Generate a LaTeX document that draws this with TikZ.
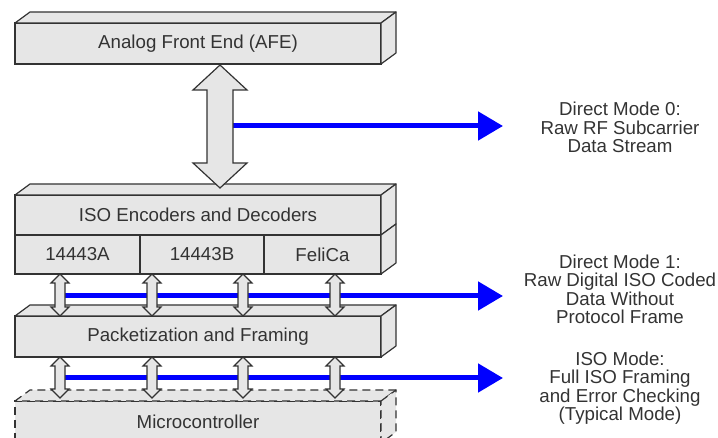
\documentclass[tikz,border=0pt]{standalone}
\usepackage{fontspec}
\setmainfont{Liberation Sans}
\usetikzlibrary{positioning,calc,arrows.meta}
\definecolor{facegray}{HTML}{E6E6E6}
\definecolor{edgegray}{HTML}{333333}
\definecolor{modeblue}{HTML}{0000FF}

\newcommand{\blocktop}[2][]{\draw[face,#1] (#2.north west) -- ++(15,-11) -- ($(#2.north east)+(15,-11)$) -- (#2.north east) -- cycle;}
\newcommand{\blockside}[3][]{\draw[face,#1] (#2.north east) -- ++(15,-11) -- ($(#3.south east)+(15,-11)$) -- (#3.south east) -- cycle;}
\newcommand{\dblarrow}[5]{\draw[twoway] (#1) -- ++(#3,#5) -- ++(-#3+#4,0) -- ($(#2)+(#4,-#5)$) -- ++(#3-#4,0) -- (#2)
  -- ++(-#3,-#5) -- ++(#3-#4,0) -- ($(#1)+(-#4,#5)$) -- ++(-#3+#4,0) -- cycle;}

\begin{document}
\begin{tikzpicture}[
		x=1pt,y=-1pt,
		line width=1.2pt,
		block/.style={draw=edgegray, fill=facegray, rectangle, outer sep=0pt, inner sep=0pt,
			minimum width=366pt, minimum height=41pt, text=edgegray, font=\fontsize{18.7}{18.5}\selectfont},
		cell/.style={block, minimum height=39pt},
		face/.style={draw=edgegray, fill=facegray, line join=round},
		dashface/.style={dash pattern=on 8pt off 5pt},
		twoway/.style={draw=edgegray, fill=facegray, line join=miter},
		modeline/.style={draw=modeblue, line width=5pt, -{Triangle[length=25pt,width=28pt]}},
		modetext/.style={align=center, text=edgegray, font=\fontsize{18.7}{18.5}\selectfont}
	]
	\useasboundingbox (0,0) rectangle (718,438);
	\clip (0,0) rectangle (718,438);

	\node[block] (afe) at (198,43.5) {Analog Front End (AFE)};
	\node[block, minimum height=40pt] (iso) at (198,215) {ISO Encoders and Decoders};
	\node[cell, minimum width=125pt, anchor=north west] (isoa) at (iso.south west) {14443A};
	\node[cell, minimum width=124pt, right=0pt of isoa] (isob) {14443B};
	\node[cell, minimum width=117pt, right=0pt of isob] (isoc) {FeliCa};
	\node[block] (pkt) at (198,336.5) {Packetization and Framing};
	\node[block, dashface, minimum height=42pt] (mcu) at (198,422) {Microcontroller};

	\blocktop{afe} \blockside{afe}{afe}
	\blocktop{iso} \blockside{iso}{iso} \blockside{isoc}{isoc}
	\blocktop{pkt} \blockside{pkt}{pkt}
	\blocktop[dashface]{mcu} \blockside[dashface]{mcu}{mcu}

	\node[modetext] (dm0) at (620,127.5) {Direct Mode 0:\\Raw RF Subcarrier\\Data Stream};
	\node[modetext] (dm1) at (620,289.5) {Direct Mode 1:\\Raw Digital ISO Coded\\Data Without\\Protocol Frame};
	\node[modetext] (isomode) at (620,388) {ISO Mode:\\Full ISO Framing\\and Error Checking\\(Typical Mode)};

	\path (afe.south) ++(22,1) coordinate (t0);
	\path (iso.north) ++(22,-7) coordinate (b0);
	\path (mcu.north) ++(0,-3) coordinate (mcutop);
	\coordinate (dm0end) at (503,126);
	\coordinate (dm1start) at (60,296);
	\coordinate (dm1end) at (503,296);
	\coordinate (isostart) at (60,378);
	\coordinate (isoend) at (503,378);

	\draw[modeline] (t0 |- dm0end) -- (dm0end);
	\draw[modeline] (dm1start) -- (dm1end);
	\draw[modeline] (isostart) -- (isoend);

	\dblarrow{t0}{b0}{27}{13}{25}
	\foreach \x in {60,152,243,335}{
		\dblarrow{\x,0 |- isoa.south}{\x,0 |- pkt.north}{9}{5}{9}
		\dblarrow{\x,0 |- pkt.south}{\x,0 |- mcutop}{9}{5}{9}
	}
\end{tikzpicture}
\end{document}
